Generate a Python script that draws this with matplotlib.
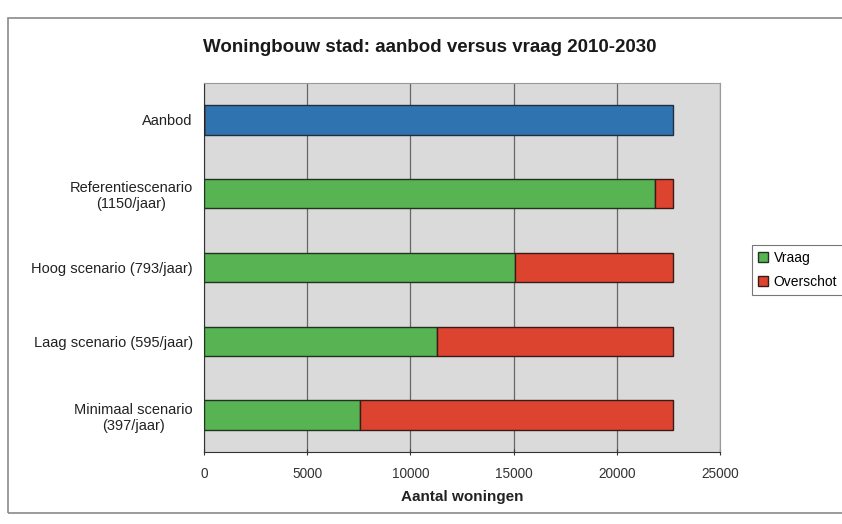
import matplotlib
matplotlib.use("Agg")
import matplotlib.pyplot as plt
from matplotlib.patches import Rectangle
import numpy as np

plt.rcParams['font.family'] = ['Liberation Sans', 'DejaVu Sans']

categories = ["Aanbod", "Referentiescenario\n(1150/jaar)", "Hoog scenario (793/jaar)",
              "Laag scenario (595/jaar)", "Minimaal scenario\n(397/jaar)"]
aanbod = [22700, 0, 0, 0, 0]
vraag = [0, 21850, 15070, 11300, 7540]
overschot = [0, 850, 7630, 11400, 15160]
xticks = [0, 5000, 10000, 15000, 20000, 25000]

fig = plt.figure(figsize=(8.42, 5.24), dpi=100)
fig.patch.set_facecolor('white')
# outer chart frame
fig.add_artist(Rectangle((8/842, 1 - 513/524), (860 - 8)/842, (513 - 18)/524,
                         transform=fig.transFigure, fill=False, edgecolor='#8a8a8a', lw=1.2))

ax = fig.add_axes([204/842, 1 - 452/524, (720 - 204)/842, (452 - 83)/524])
ax.set_facecolor('#dadada')
y = np.arange(len(categories))
h = 0.4
ax.barh(y, aanbod, height=h, color='#2f74b0', edgecolor='#1f2f3f', lw=1, zorder=3)
ax.barh(y, vraag, height=h, color='#58b352', edgecolor='#1f3320', lw=1, zorder=3, label='Vraag')
ax.barh(y, overschot, left=vraag, height=h, color='#dc4430', edgecolor='#3a1a14', lw=1, zorder=3,
        label='Overschot')
ax.set_ylim(len(categories) - 0.5, -0.5)
ax.set_xlim(0, 25000)
ax.set_xticks(xticks)
ax.set_xticklabels([str(t) for t in xticks], fontsize=9.8, color='#333333')
ax.set_yticks(y)
ax.set_yticklabels(categories, fontsize=10.5, color='#222222')
for lab in ax.get_yticklabels():
    lab.set_multialignment('center')
ax.tick_params(axis='y', length=0, pad=8)
ax.tick_params(axis='x', length=5, direction='inout', pad=8, color='#333333')
ax.grid(axis='x', color='#666666', lw=0.9, zorder=1)
for s in ['top', 'right']:
    ax.spines[s].set_color('#9a9a9a')
ax.spines['left'].set_color('#333333')
ax.spines['bottom'].set_color('#333333')
ax.set_xlabel('Aantal woningen', fontsize=11, fontweight='bold', color='#222222', labelpad=7)

fig.text(430/842, 1 - 47/524, 'Woningbouw stad: aanbod versus vraag 2010-2030', ha='center', va='center',
         fontsize=13.5, fontweight='bold', color='#1a1a1a')

leg = ax.legend(loc='center left', bbox_to_anchor=(745/842, 1 - 270/524), bbox_transform=fig.transFigure,
                fontsize=10, frameon=True, fancybox=False, edgecolor='#555555', handlelength=0.7,
                handleheight=0.7, handletextpad=0.4, borderpad=0.45, labelspacing=0.75)
leg.get_frame().set_linewidth(0.8)

fig.savefig('out.png', dpi=100)
